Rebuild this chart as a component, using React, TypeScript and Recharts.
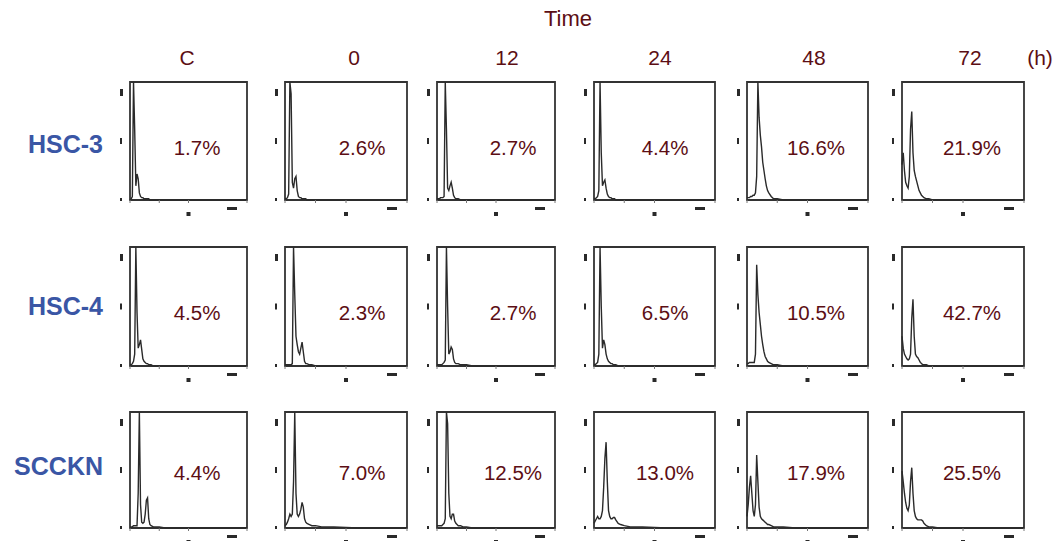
import { LineChart, Line, XAxis, YAxis, ReferenceArea } from 'recharts'

// channel positions (% of axis width) shared by every histogram
const CHANNELS = [0, 1, 2, 3, 4, 5, 6, 7, 8, 9, 10, 11, 12, 13, 14, 15, 16, 17, 18, 20, 22, 25, 30, 40, 60, 100]

const TIMES = ['C', '0', '12', '24', '48', '72']
const CELL_LINES = ['HSC-3', 'HSC-4', 'SCCKN']

const HSC3_PCT = ['1.7%', '2.6%', '2.7%', '4.4%', '16.6%', '21.9%']
const HSC4_PCT = ['4.5%', '2.3%', '2.7%', '6.5%', '10.5%', '42.7%']
const SCCKN_PCT = ['4.4%', '7.0%', '12.5%', '13.0%', '17.9%', '25.5%']

// event counts (% of full scale) per channel
const HSC3_C = [0, 1, 3, 100, 60, 12, 22, 18, 6, 3, 2, 2, 1, 1, 1, 1, 1, 0, 0, 0, 0, 0, 0, 0, 0, 0]
const HSC3_0 = [1, 1, 2, 5, 100, 90, 15, 10, 18, 20, 8, 3, 2, 2, 1, 1, 1, 1, 0, 0, 0, 0, 0, 0, 0, 0]
const HSC3_12 = [1, 1, 1, 2, 2, 2, 3, 100, 60, 10, 8, 12, 15, 10, 4, 2, 1, 1, 1, 0, 0, 0, 0, 0, 0, 0]
const HSC3_24 = [1, 1, 2, 3, 8, 100, 40, 12, 15, 17, 10, 5, 3, 2, 2, 1, 1, 1, 0, 0, 0, 0, 0, 0, 0, 0]
const HSC3_48 = [2, 2, 2, 3, 3, 4, 4, 6, 20, 100, 70, 55, 45, 32, 25, 18, 12, 8, 6, 3, 1, 1, 0, 0, 0, 0]
const HSC3_72 = [30, 40, 25, 15, 12, 10, 20, 60, 75, 40, 25, 20, 16, 12, 8, 6, 4, 3, 2, 1, 1, 0, 0, 0, 0, 0]

const HSC4_C = [1, 1, 2, 4, 10, 100, 45, 15, 18, 22, 14, 6, 4, 3, 2, 2, 1, 1, 1, 0, 0, 0, 0, 0, 0, 0]
const HSC4_0 = [1, 1, 1, 1, 1, 1, 2, 100, 60, 25, 18, 12, 10, 15, 20, 12, 4, 2, 2, 1, 1, 0, 0, 0, 0, 0]
const HSC4_12 = [1, 1, 1, 1, 1, 2, 3, 5, 100, 50, 10, 12, 16, 14, 6, 3, 2, 2, 2, 1, 1, 1, 0, 0, 0, 0]
const HSC4_24 = [1, 1, 2, 3, 10, 100, 50, 15, 22, 18, 10, 6, 4, 3, 2, 2, 1, 1, 1, 0, 0, 0, 0, 0, 0, 0]
const HSC4_48 = [2, 2, 3, 3, 3, 3, 3, 10, 85, 60, 45, 35, 25, 18, 12, 8, 6, 4, 3, 2, 1, 1, 0, 0, 0, 0]
const HSC4_72 = [25, 15, 10, 8, 6, 5, 6, 10, 40, 56, 25, 10, 8, 7, 5, 3, 2, 1, 1, 1, 0, 0, 0, 0, 0, 0]

const SCCKN_C = [1, 1, 1, 2, 2, 2, 2, 30, 100, 20, 5, 4, 5, 12, 24, 26, 8, 3, 2, 1, 1, 1, 0, 0, 0, 0]
const SCCKN_0 = [2, 3, 5, 8, 12, 10, 12, 40, 100, 30, 12, 10, 12, 16, 22, 18, 8, 5, 4, 3, 2, 2, 1, 1, 0, 0]
const SCCKN_12 = [2, 2, 2, 2, 2, 3, 4, 8, 100, 90, 30, 10, 8, 12, 12, 6, 4, 3, 2, 2, 1, 1, 0, 0, 0, 0]
const SCCKN_24 = [4, 6, 8, 10, 8, 8, 10, 15, 35, 60, 74, 40, 15, 10, 8, 8, 9, 9, 7, 4, 3, 2, 1, 1, 0, 0]
const SCCKN_48 = [10, 20, 35, 45, 30, 15, 10, 20, 63, 40, 18, 10, 8, 7, 6, 5, 4, 3, 3, 2, 1, 1, 1, 0, 0, 0]
const SCCKN_72 = [49, 40, 30, 22, 17, 15, 20, 40, 52, 30, 15, 10, 8, 7, 7, 7, 7, 6, 4, 2, 1, 1, 0, 0, 0, 0]

const HIST = [
  [HSC3_C, HSC3_0, HSC3_12, HSC3_24, HSC3_48, HSC3_72],
  [HSC4_C, HSC4_0, HSC4_12, HSC4_24, HSC4_48, HSC4_72],
  [SCCKN_C, SCCKN_0, SCCKN_12, SCCKN_24, SCCKN_48, SCCKN_72],
]
const PCTS = [HSC3_PCT, HSC4_PCT, SCCKN_PCT]

// layout
const COL_LEFT = [130, 285, 437, 594, 747, 902]
const COL_WIDTH = [117, 122, 118, 121, 121, 122]
const COL_TEXT_X = [197, 362, 513, 665, 816, 972]
const ROW_TOP = [82, 247, 412]
const ROW_HEIGHT = [118, 119, 116]
const ROW_TEXT_Y = [148, 313, 473]
const ROW_LABEL_Y = [144, 306, 466]
const TIME_X = [187, 354, 507, 660, 814, 970]

const MAROON = '#5c0e14'
const BLUE = '#3a56a5'
const INK = '#2a2a2a'
const FONT = '"Liberation Sans", Arial, Helvetica, sans-serif'

const YAW = 10 // y axis width
const XAH = 16 // x axis height
const PAD = 2

function XTick(props: any) {
  const { x, y, payload } = props
  const v = payload.value
  if (v === 50) return <rect x={x - 2} y={y + 7} width={4} height={4} fill={INK} />
  if (v === 100) return <rect x={x - 10} y={y + 2} width={10} height={3} fill={INK} />
  return <g />
}

function YTick(props: any) {
  const { x, y, payload } = props
  const v = payload.value
  if (v === 100) return <rect x={x - 3} y={y} width={4} height={7} fill={INK} />
  if (v === 50) return <rect x={x - 2} y={y - 3} width={2} height={6} fill={INK} />
  return <rect x={x - 3} y={y - 2} width={3} height={3} fill={INK} />
}

function Histogram({ counts, width, height }: { counts: number[]; width: number; height: number }) {
  const data = CHANNELS.map((x, i) => ({ x, y: counts[i] }))
  return (
    <LineChart
      width={width + YAW + PAD}
      height={height + XAH + PAD}
      data={data}
      margin={{ top: PAD, right: PAD, left: 0, bottom: 0 }}
    >
      <XAxis
        type="number"
        dataKey="x"
        domain={[0, 100]}
        ticks={[0, 25, 50, 75, 100]}
        height={XAH}
        axisLine={false}
        tickLine={{ stroke: '#777' }}
        tickSize={3}
        tick={<XTick />}
      />
      <YAxis
        type="number"
        domain={[0, 100]}
        ticks={[0, 50, 100]}
        width={YAW}
        axisLine={false}
        tickLine={false}
        tick={<YTick />}
      />
      <ReferenceArea x1={0} x2={100} y1={0} y2={100} fill="none" stroke="#333" strokeWidth={1.8} />
      <Line
        type="linear"
        dataKey="y"
        stroke={INK}
        strokeWidth={1.4}
        dot={false}
        isAnimationActive={false}
      />
    </LineChart>
  )
}

export default function App() {
  return (
    <div style={{ position: 'absolute', left: 0, top: 0, width: 1058, height: 541, background: '#fff', fontFamily: FONT }}>
      <div style={{ position: 'absolute', left: 568, top: 19, transform: 'translate(-50%, -50%)', fontSize: 22, color: MAROON }}>
        Time
      </div>
      {TIMES.map((t, c) => (
        <div
          key={t}
          style={{ position: 'absolute', left: TIME_X[c], top: 58, transform: 'translate(-50%, -50%)', fontSize: 21, color: MAROON }}
        >
          {t}
        </div>
      ))}
      <div style={{ position: 'absolute', left: 1040, top: 58, transform: 'translate(-50%, -50%)', fontSize: 21, color: MAROON }}>
        (h)
      </div>

      {CELL_LINES.map((name, r) => (
        <div
          key={name}
          style={{
            position: 'absolute',
            right: 1058 - 103,
            top: ROW_LABEL_Y[r],
            transform: 'translateY(-50%)',
            fontSize: 25,
            fontWeight: 'bold',
            color: BLUE,
          }}
        >
          {name}
        </div>
      ))}

      {HIST.map((row, r) =>
        row.map((counts, c) => (
          <div key={`${r}-${c}`}>
            <div style={{ position: 'absolute', left: COL_LEFT[c] - YAW, top: ROW_TOP[r] - PAD }}>
              <Histogram counts={counts} width={COL_WIDTH[c]} height={ROW_HEIGHT[r]} />
            </div>
            <div
              style={{
                position: 'absolute',
                left: COL_TEXT_X[c],
                top: ROW_TEXT_Y[r],
                transform: 'translate(-50%, -50%)',
                fontSize: 20.5,
                color: MAROON,
                whiteSpace: 'nowrap',
              }}
            >
              {PCTS[r][c]}
            </div>
          </div>
        ))
      )}
    </div>
  )
}
